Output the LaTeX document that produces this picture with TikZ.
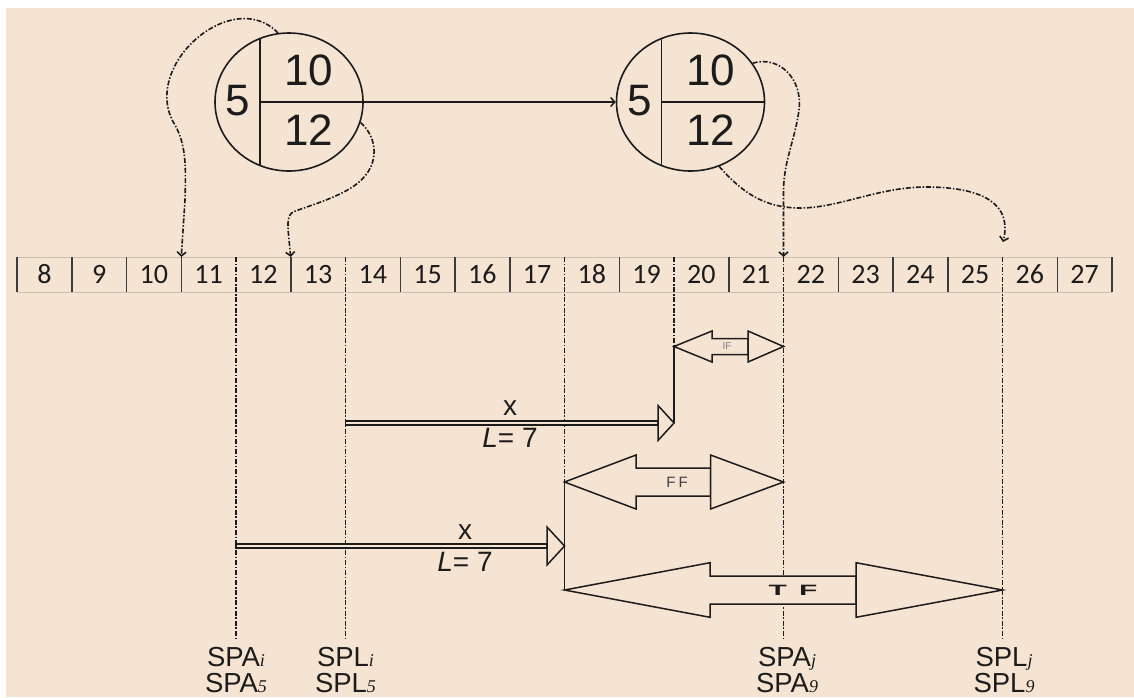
\documentclass[tikz,border=0pt]{standalone}
\usepackage{fontspec}
\usepackage{graphicx}
\setmainfont{Liberation Sans}
\newfontfamily\calibfont{Carlito}[Numbers=Lining]
\newfontfamily\timesfont{Liberation Serif}
\usetikzlibrary{arrows.meta,shapes.geometric,calc}
\definecolor{bgc}{RGB}{245,228,210}
\definecolor{inkc}{RGB}{28,28,28}
\definecolor{tgray}{RGB}{200,190,180}
\definecolor{sepc}{RGB}{60,60,60}
\newcommand{\mysub}[1]{{\timesfont\itshape\fontsize{18}{18}\selectfont #1}}
% fat double-headed arrow: tipL, baseL, baseR, tipR, y, head half-height, shaft half-height
\newcommand{\fatarrow}[7]{%
  \draw[fat] ({#1},{#5}) -- ({#2},{#5-#6}) -- ({#2},{#5-#7}) -- ({#3},{#5-#7}) -- ({#3},{#5+#7}) -- ({#2},{#5+#7}) -- ({#2},{#5+#6}) -- cycle;
  \draw[fat] ({#3},{#5-#6}) -- ({#4},{#5}) -- ({#3},{#5+#6}) -- cycle;}
% hollow single arrow: start, base, tip, y, head half-height
\newcommand{\hollowarrow}[5]{%
  \draw[fat, line width=1.2pt] ({#1},{#4-2}) rectangle ({#2},{#4+2});
  \draw[fat] ({#2},{#4-#5}) -- ({#3},{#4}) -- ({#2},{#4+#5}) -- cycle;}
\begin{document}
\begin{tikzpicture}[x=1pt,y=-1pt,
  dd/.style={draw=inkc, line width=1.6pt, dash pattern=on 5pt off 1.8pt on 1.5pt off 1.8pt},
  ln/.style={draw=inkc, line width=1.5pt},
  barb/.style={-{Straight Barb[length=4pt,width=9pt]}},
  fat/.style={draw=inkc, line width=1.5pt, fill=bgc, line join=miter},
  cell/.style={minimum width=54.75pt, minimum height=34pt, inner sep=0pt, text height=17.7pt, text depth=0pt, text=inkc, font=\calibfont\fontsize{28}{28}\selectfont},
  circ/.style={ellipse, draw=inkc, line width=1.6pt, minimum width=148pt, minimum height=138pt, inner sep=0pt},
  big/.style={inner sep=0pt, text height=31pt, text depth=0pt, text=inkc, font=\fontsize{44}{44}\selectfont},
  mid/.style={inner sep=0pt, text=inkc, font=\fontsize{28}{28}\selectfont},
  lab/.style={inner sep=0pt, text=inkc, font=\fontsize{27.5}{27.5}\selectfont, anchor=base}
]
\useasboundingbox (0,0) rectangle (1134,697);
\fill[bgc] (6,8) rectangle (1134,697);

% ---------- table ----------
\foreach \k in {0,...,20} {
  \coordinate (t\k) at ({17+54.75*\k},257);
  \coordinate (b\k) at ({17+54.75*\k},292);
}
\foreach \n [count=\k from 0] in {8,...,27}
  \node[cell] (c\n) at ({44.375+54.75*\k},275) {\n};
\draw[tgray, line width=1pt] (t0) -- (t20) (b0) -- (b20);
\foreach \k in {0,1,2,3,5,7,8,9,11,13,15,16,17,19,20}
  \draw[sepc, line width=1.5pt] (t\k) -- (b\k);

% ---------- labels ----------
\node[lab] (sai) at (236,666) {SPA\mysub{i}};
\node[lab] (sa5) at (236,692) {SPA\mysub{5}};
\node[lab] (sli) at (345.5,666) {SPL\mysub{i}};
\node[lab] (sl5) at (345.5,692) {SPL\mysub{5}};
\node[lab] (saj) at (787,666) {SPA\mysub{j}};
\node[lab] (sa9) at (787,692) {SPA\mysub{9}};
\node[lab] (slj) at (1004,666) {SPL\mysub{j}};
\node[lab] (sl9) at (1004,692) {SPL\mysub{9}};

% ---------- key coordinates ----------
\coordinate (ifL) at (674,346.5);
\coordinate (a1s) at (345.5,423);
\coordinate (a1t) at (674,423);
\coordinate (ffL) at (564.5,482);
\coordinate (a2s) at (236,546);
\coordinate (a2t) at (564.5,546);
\coordinate (tfL) at (564.5,590);

% ---------- dash-dot verticals ----------
\draw[dd, shorten >=6pt] (t4) -- (t4 |- sai.north);
\draw[dd, shorten >=6pt] (t6) -- (t6 |- sli.north);
\draw[dd] (t10) -- (ffL);
\draw[dd] (t12) -- (ifL);
\draw[dd, shorten >=6pt] (t14) -- (t14 |- saj.north);
\draw[dd, shorten >=6pt] (t18) -- (t18 |- slj.north);

% ---------- solid verticals ----------
\draw[ln] (ifL) -- (a1t);
\draw[ln] (ffL) -- (tfL);

% ---------- fat arrows ----------
\fatarrow{674}{712}{748}{783.5}{346.5}{15.5}{8}
\node[inner sep=0pt, text=black!50, font=\fontsize{10}{10}\selectfont] (iftxt) at (727,346.5) {IF};
\fatarrow{564.5}{636}{710.5}{783.5}{482}{27}{14}
\node[inner sep=0pt, text=black!75, font=\fontsize{15}{15}\selectfont] (fftxt) at (677,482) {F\hspace{3pt}F};
\fatarrow{564.5}{710}{856}{1002.5}{590}{27.3}{14}
\node[inner sep=0pt, text=inkc, font=\bfseries\fontsize{15}{15}\selectfont] (tftxt) at (793,590) {\scalebox{2}[1]{T\hspace{6pt}F}};

% ---------- hollow arrows ----------
\hollowarrow{345.5}{658}{674}{423}{17.5}
\node[mid] (x1) at (510,408) {x};
\node[mid] (l1) at (510,438) {\textit{L}= 7};
\hollowarrow{236}{547}{564.5}{546}{19}
\node[mid] (x2) at (465,532) {x};
\node[mid] (l2) at (465,562) {\textit{L}= 7};

% ---------- circles ----------
\node[circ] (ca) at (289,102) {};
\node[circ] (cb) at (690.5,102) {};
\foreach \c in {ca,cb} {
  \draw[ln] ($(\c.center)+(-29,-63.5)$) -- ($(\c.center)+(-29,63.5)$);
  \draw[ln] ($(\c.center)+(-29,0)$) -- (\c.east);
}
\node[big] (ca5) at ($(ca.center)+(-51,-2)$) {5};
\node[big] (ca10) at ($(ca.center)+(20,-32)$) {10};
\node[big] (ca12) at ($(ca.center)+(20,28)$) {12};
\node[big] (cb5) at ($(cb.center)+(-51,-2)$) {5};
\node[big] (cb10) at ($(cb.center)+(20,-32)$) {10};
\node[big] (cb12) at ($(cb.center)+(20,28)$) {12};

\draw[ln, barb] (ca.east) -- (cb.west);

% ---------- dash-dot curved arrows ----------
\coordinate (e4) at (1003,242);
\draw[dd, barb] (ca.99) .. controls (262,16) and (235,12) .. (205,32)
  .. controls (172,55) and (156,95) .. (175,125)
  .. controls (186,145) and (186,165) .. (185,200) -- (t3);
\draw[dd, barb] (ca.-16) .. controls (375,135) and (380,158) .. (365,176)
  .. controls (350,195) and (310,205) .. (293,212)
  .. controls (286,216) and (288,228) .. (289,240) -- (t5);
\draw[dd, barb] (cb.32) .. controls (780,55) and (803,80) .. (799,110)
  .. controls (795,140) and (784,160) .. (783.5,190) -- (t14);
\draw[dd, barb] (cb.-66) .. controls (740,190) and (762,208) .. (800,208)
  .. controls (840,208) and (880,186) .. (930,187)
  .. controls (985,188) and (1012,205) .. (e4);
\end{tikzpicture}
\end{document}
